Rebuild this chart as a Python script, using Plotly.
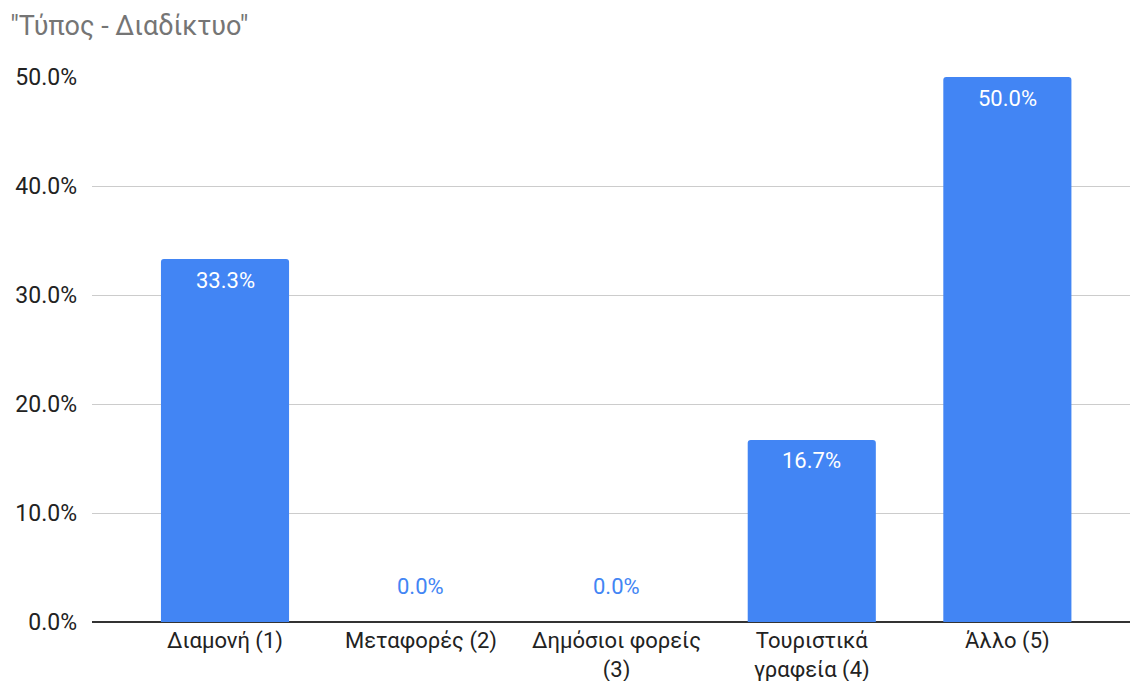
import plotly.graph_objects as go

# Survey share by category of business type (Internet)
categories = ["Διαμονή (1)", "Μεταφορές (2)", "Δημόσιοι φορείς<br>(3)", "Τουριστικά<br>γραφεία (4)", "Άλλο (5)"]
shares = [33.3, 0.0, 0.0, 16.7, 50.0]
y_ticks = [0, 10, 20, 30, 40, 50]
y_tick_text = ["0.0%", "10.0%", "20.0%", "30.0%", "40.0%", "50.0%"]

BAR_BLUE = "#4285F4"
FONT = "Roboto, Arial, sans-serif"
TEXT_SIZE = 23

x_pos = list(range(len(categories)))

fig = go.Figure()
fig.add_trace(go.Bar(
    x=x_pos,
    y=shares,
    width=0.655,
    marker=dict(color=BAR_BLUE, cornerradius=3, line=dict(width=0)),
    hoverinfo="skip",
))

# Value labels: white inside non-zero bars, blue just above the axis for zeros
for xi, v in zip(x_pos, shares):
    label = f"{v:.1f}%"
    if v > 0:
        fig.add_annotation(x=xi, y=v, text=label, showarrow=False, yshift=-21,
                           font=dict(family=FONT, size=22, color="#ffffff"))
    else:
        fig.add_annotation(x=xi, y=v, text=label, showarrow=False, yshift=36,
                           font=dict(family=FONT, size=22, color=BAR_BLUE))

# Category labels under the axis
for xi, name in zip(x_pos, categories):
    fig.add_annotation(x=xi, y=0, text=name, showarrow=False,
                       yanchor="top", yshift=-4, align="center",
                       font=dict(family=FONT, size=22, color="#222222"))

fig.update_layout(
    width=1132,
    height=681,
    margin=dict(l=92, r=2, t=77, b=59),
    paper_bgcolor="white",
    plot_bgcolor="white",
    showlegend=False,
    font=dict(family=FONT, size=TEXT_SIZE, color="#222222"),
    title=dict(text='"Τύπος - Διαδίκτυο"', x=0.009, xanchor="left", y=0.963, yanchor="middle",
               font=dict(family=FONT, size=27, color="#757575")),
    xaxis=dict(
        range=[-0.68, 4.627],
        showticklabels=False,
        showgrid=False,
        zeroline=False,
        showline=False,
        ticks="",
        fixedrange=True,
    ),
    yaxis=dict(
        range=[0, 50],
        tickmode="array",
        tickvals=y_ticks,
        ticktext=y_tick_text,
        showgrid=True,
        gridcolor="#cccccc",
        gridwidth=1,
        zeroline=True,
        zerolinecolor="#333333",
        zerolinewidth=1.5,
        showline=False,
        ticks="",
        ticklabelstandoff=14,
        tickfont=dict(family=FONT, size=TEXT_SIZE, color="#222222"),
        fixedrange=True,
    ),
)

fig.write_html("out.html")
